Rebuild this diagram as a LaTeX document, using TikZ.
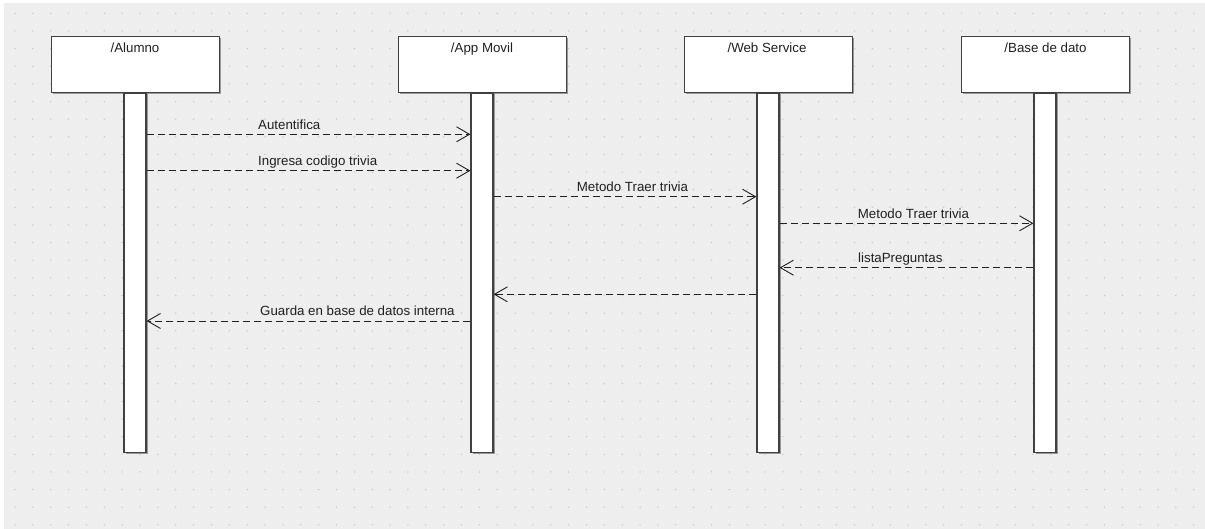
\documentclass[tikz,border=0pt]{standalone}
\usepackage{fontspec}
\setmainfont{Liberation Sans}
\usetikzlibrary{arrows.meta}
\definecolor{bggray}{HTML}{EEEEEE}
\definecolor{dotgray}{HTML}{C8C8C8}
\definecolor{edge}{HTML}{404040}
\definecolor{txt}{HTML}{202020}
\begin{document}
\begin{tikzpicture}[x=1pt,y=-1pt,
  headbox/.style={draw=edge,line width=1pt,fill=white,minimum width=168pt,minimum height=56pt,inner sep=0pt},
  lifebox/.style={draw=edge,line width=1.2pt,fill=white,minimum width=22pt,minimum height=359.7pt,inner sep=0pt},
  msg/.style={draw=txt,line width=0.9pt,dash pattern=on 7pt off 4pt,-{Straight Barb[length=13pt,width=15pt,line width=0.9pt]}},
  lbl/.style={text=txt,font=\fontsize{13.3}{15}\selectfont,inner sep=0pt},
  msglbl/.style={lbl,anchor=base west},
  headlbl/.style={lbl,anchor=base}
]
\useasboundingbox (0,0) rectangle (1205,529);
\fill[white] (0,0) rectangle (1205,529);
\fill[bggray] (4,3) rectangle (1205,529);
\foreach \i in {0,...,66}{
  \foreach \j in {0,...,29}{
    \fill[dotgray] ({15+17.86*\i},{13.3+17.64*\j}) circle (0.75pt);
  }
}
% shadows
\foreach \cx in {135,482,768,1045.5}{
  \fill[black!40] ({\cx-84+1.5},{37+1.5}) rectangle ({\cx+84+1.5},{93+1.5});
  \fill[black!40] ({\cx-11+1.5},{93+1.5}) rectangle ({\cx+11+1.5},{452.7+1.5});
}
% lifelines
\node[lifebox] (ll1) at (135,272.85) {};
\node[lifebox] (ll2) at (482,272.85) {};
\node[lifebox] (ll3) at (768,272.85) {};
\node[lifebox] (ll4) at (1045,272.85) {};
% heads
\node[headbox] (alumno) at (135,65) {};
\node[headbox] (app) at (482,65) {};
\node[headbox] (ws) at (768,65) {};
\node[headbox] (db) at (1045.5,65) {};
\node[headlbl] (talumno) at (135,52.7) {/Alumno};
\node[headlbl] (tapp) at (482,52.7) {/App Movil};
\node[headlbl] (tws) at (767,52.7) {/Web Service};
\node[headlbl] (tdb) at (1045.5,52.7) {/Base de dato};
% messages
\draw[msg] (ll1.east |- 0,134.3) -- (ll2.west |- 0,134.3);
\node[msglbl] (m1) at (258,129.3) {Autentifica};
\draw[msg] (ll1.east |- 0,170.7) -- (ll2.west |- 0,170.7);
\node[msglbl] (m2) at (258,165.5) {Ingresa codigo trivia};
\draw[msg] (ll2.east |- 0,196.7) -- (ll3.west |- 0,196.7);
\node[msglbl] (m3) at (576.7,191.7) {Metodo Traer trivia};
\draw[msg] (ll3.east |- 0,223.3) -- (ll4.west |- 0,223.3);
\node[msglbl] (m4) at (857.7,218.3) {Metodo Traer trivia};
\draw[msg] (ll4.west |- 0,267.7) -- (ll3.east |- 0,267.7);
\node[msglbl] (m5) at (858,262.7) {listaPreguntas};
\draw[msg] (ll3.west |- 0,294.3) -- (ll2.east |- 0,294.3);
\draw[msg] (ll2.west |- 0,321) -- (ll1.east |- 0,321);
\node[msglbl] (m7) at (260,316) {Guarda en base de datos interna};
\end{tikzpicture}
\end{document}
